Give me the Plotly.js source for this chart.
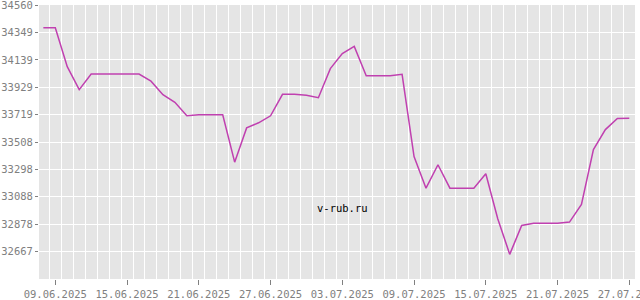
<!DOCTYPE html>
<html>
<head>
<meta charset="utf-8">
<script src="https://cdn.plot.ly/plotly-3.0.1.min.js"></script>
<style>html,body{margin:0;padding:0;background:#fff;}#chart{width:640px;height:300px;}</style>
</head>
<body>
<div id="chart"></div>
<script>
const dates = ['2025-06-08','2025-06-09','2025-06-10','2025-06-11','2025-06-12','2025-06-13','2025-06-14','2025-06-15','2025-06-16','2025-06-17','2025-06-18','2025-06-19','2025-06-20','2025-06-21','2025-06-22','2025-06-23','2025-06-24','2025-06-25','2025-06-26','2025-06-27','2025-06-28','2025-06-29','2025-06-30','2025-07-01','2025-07-02','2025-07-03','2025-07-04','2025-07-05','2025-07-06','2025-07-07','2025-07-08','2025-07-09','2025-07-10','2025-07-11','2025-07-12','2025-07-13','2025-07-14','2025-07-15','2025-07-16','2025-07-17','2025-07-18','2025-07-19','2025-07-20','2025-07-21','2025-07-22','2025-07-23','2025-07-24','2025-07-25','2025-07-26','2025-07-27'];
const values = [34386,34386,34087,33911,34030,34030,34030,34030,34030,33976,33872,33813,33711,33717,33717,33717,33354,33617,33656,33710,33875,33875,33868,33849,34072,34187,34243,34018,34018,34018,34028,33397,33154,33334,33154,33154,33154,33265,32920,32646,32868,32884,32884,32884,32894,33029,33451,33604,33689,33691];
const xTickVals = ['2025-06-09','2025-06-15','2025-06-21','2025-06-27','2025-07-03','2025-07-09','2025-07-15','2025-07-21','2025-07-27'];
const xTickText = ['09.06.2025','15.06.2025','21.06.2025','27.06.2025','03.07.2025','09.07.2025','15.07.2025','21.07.2025','27.07.2025'];
const yTickText = ['34560','34349','34139','33929','33719','33508','33298','33088','32878','32667'];
const yTickVals = yTickText.map(Number);

const font = {family: 'DejaVu Sans Mono, monospace', size: 10.5, color: '#808080'};

Plotly.newPlot('chart', [{
  x: dates, y: values, type: 'scatter', mode: 'lines',
  line: {color: '#c040b0', width: 1.5},
  hoverinfo: 'skip'
}], {
  width: 640, height: 300,
  margin: {l: 39, r: 5, t: 5, b: 21, pad: 0},
  paper_bgcolor: '#ffffff', plot_bgcolor: '#e5e5e5',
  showlegend: false,
  font: font,
  xaxis: {
    type: 'date',
    range: ['2025-06-07 15:17', '2025-07-27 11:27'],
    tickmode: 'array', tickvals: xTickVals, ticktext: xTickText,
    ticks: 'outside', ticklen: 5, tickwidth: 1, tickcolor: '#808080',
    ticklabeloverflow: 'allow',
    showgrid: false, zeroline: false, showline: false,
    tickfont: font,
    minor: {tick0: '2025-06-08 12:00', dtick: 86400000, showgrid: true, gridcolor: '#ffffff', gridwidth: 1, ticks: ''}
  },
  yaxis: {
    range: [32456.67, 34560.6],
    tickmode: 'array', tickvals: yTickVals, ticktext: yTickText,
    ticks: 'outside', ticklen: 3, tickwidth: 1, tickcolor: '#808080',
    ticklabeloverflow: 'allow',
    showgrid: true, gridcolor: '#ffffff', gridwidth: 1,
    zeroline: false, showline: false,
    tickfont: font
  },
  annotations: [{
    xref: 'paper', yref: 'paper', x: 0.51, y: 0.23,
    text: 'v-rub.ru', showarrow: false,
    font: {family: 'DejaVu Sans Mono, monospace', size: 10.5, color: '#000000'}
  }]
}, {staticPlot: true});
</script>
</body>
</html>
